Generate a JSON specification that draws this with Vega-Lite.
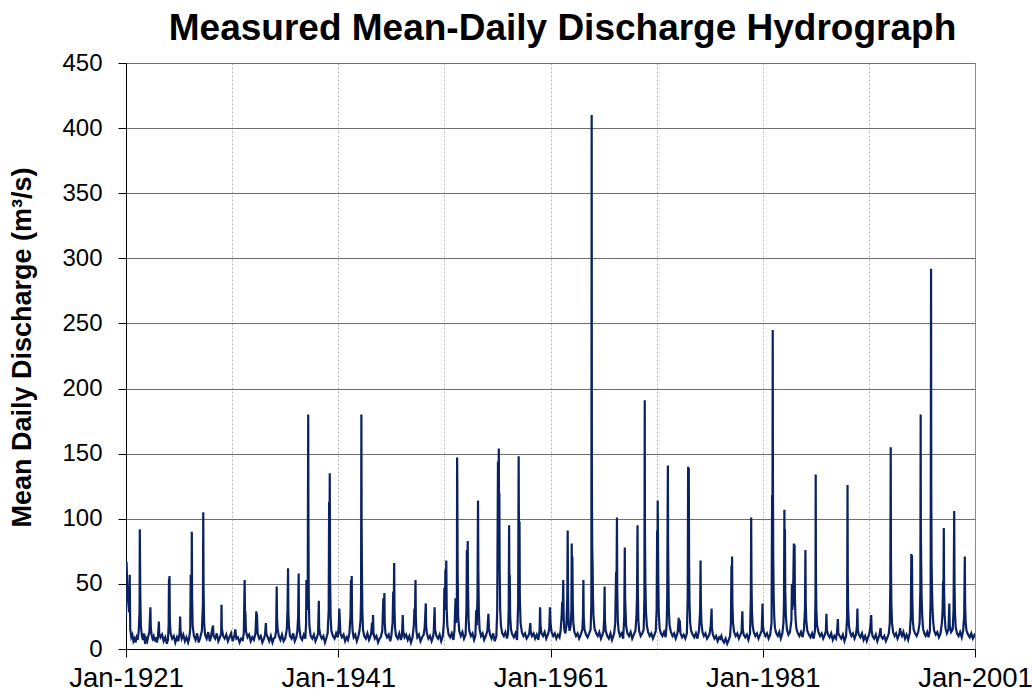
{
  "$schema": "https://vega.github.io/schema/vega-lite/v6.json",
  "width": 849,
  "height": 586,
  "autosize": {"type": "none"},
  "padding": {"left": 126, "top": 63, "right": 57, "bottom": 49},
  "background": "white",
  "config": {
    "font": "Liberation Sans",
    "view": {"stroke": "#8a8a8a", "strokeWidth": 1}
  },
  "title": {
    "text": "Measured Mean-Daily Discharge Hydrograph",
    "fontSize": 37,
    "fontWeight": "bold",
    "font": "Liberation Sans",
    "color": "black",
    "anchor": "middle",
    "offset": 3,
    "dx": 12
  },
  "data": {"values": [
    {"t":1921.00,"q":25},{"t":1921.05,"q":67},{"t":1921.12,"q":48},{"t":1921.2,"q":40},{"t":1921.3,"q":28},{"t":1921.35,"q":57},{"t":1921.4,"q":15},{"t":1921.5,"q":9},{"t":1921.6,"q":11},{"t":1921.7,"q":6},{"t":1921.8,"q":8},{"t":1921.9,"q":5},
    {"t":1922.0,"q":9},{"t":1922.1,"q":7},{"t":1922.2,"q":14},{"t":1922.28,"q":30},{"t":1922.3,"q":92},{"t":1922.32,"q":70},{"t":1922.35,"q":40},{"t":1922.4,"q":18},{"t":1922.5,"q":10},{"t":1922.6,"q":7},{"t":1922.7,"q":12},{"t":1922.8,"q":4},{"t":1922.9,"q":8},
    {"t":1923.0,"q":6},{"t":1923.1,"q":10},{"t":1923.2,"q":13},{"t":1923.3,"q":32},{"t":1923.33,"q":18},{"t":1923.4,"q":11},{"t":1923.5,"q":8},{"t":1923.6,"q":10},{"t":1923.7,"q":6},{"t":1923.8,"q":9},{"t":1923.9,"q":5},
    {"t":1924.0,"q":8},{"t":1924.1,"q":21},{"t":1924.13,"q":12},{"t":1924.25,"q":9},{"t":1924.4,"q":11},{"t":1924.55,"q":6},{"t":1924.7,"q":9},{"t":1924.85,"q":4},{"t":1924.95,"q":7},
    {"t":1925.02,"q":18},{"t":1925.05,"q":54},{"t":1925.08,"q":35},{"t":1925.1,"q":56},{"t":1925.13,"q":22},{"t":1925.2,"q":12},{"t":1925.35,"q":8},{"t":1925.5,"q":10},{"t":1925.65,"q":5},{"t":1925.8,"q":9},{"t":1925.92,"q":6},
    {"t":1926.05,"q":12},{"t":1926.1,"q":25},{"t":1926.14,"q":14},{"t":1926.25,"q":8},{"t":1926.4,"q":11},{"t":1926.55,"q":6},{"t":1926.7,"q":9},{"t":1926.85,"q":5},{"t":1926.95,"q":8},
    {"t":1927.05,"q":15},{"t":1927.1,"q":57},{"t":1927.14,"q":30},{"t":1927.18,"q":45},{"t":1927.2,"q":90},{"t":1927.23,"q":40},{"t":1927.28,"q":18},{"t":1927.4,"q":10},{"t":1927.55,"q":7},{"t":1927.7,"q":12},{"t":1927.85,"q":5},
    {"t":1928.0,"q":9},{"t":1928.15,"q":14},{"t":1928.25,"q":35},{"t":1928.28,"q":105},{"t":1928.31,"q":45},{"t":1928.36,"q":20},{"t":1928.45,"q":11},{"t":1928.6,"q":8},{"t":1928.75,"q":13},{"t":1928.9,"q":6},
    {"t":1929.0,"q":9},{"t":1929.1,"q":14},{"t":1929.2,"q":18},{"t":1929.25,"q":10},{"t":1929.4,"q":8},{"t":1929.55,"q":12},{"t":1929.7,"q":6},{"t":1929.85,"q":9},
    {"t":1929.97,"q":12},{"t":1930.0,"q":34},{"t":1930.03,"q":16},{"t":1930.15,"q":10},{"t":1930.3,"q":8},{"t":1930.45,"q":11},{"t":1930.6,"q":6},{"t":1930.75,"q":9},{"t":1930.9,"q":12},
    {"t":1931.05,"q":6},{"t":1931.2,"q":10},{"t":1931.3,"q":15},{"t":1931.4,"q":8},{"t":1931.55,"q":9},{"t":1931.7,"q":5},{"t":1931.85,"q":8},
    {"t":1932.0,"q":7},{"t":1932.1,"q":12},{"t":1932.18,"q":53},{"t":1932.21,"q":30},{"t":1932.25,"q":28},{"t":1932.3,"q":14},{"t":1932.45,"q":9},{"t":1932.6,"q":11},{"t":1932.75,"q":6},{"t":1932.9,"q":9},
    {"t":1933.05,"q":7},{"t":1933.2,"q":12},{"t":1933.28,"q":29},{"t":1933.31,"q":18},{"t":1933.34,"q":27},{"t":1933.4,"q":12},{"t":1933.55,"q":8},{"t":1933.7,"q":10},{"t":1933.85,"q":5},
    {"t":1934.0,"q":8},{"t":1934.1,"q":11},{"t":1934.18,"q":20},{"t":1934.22,"q":12},{"t":1934.35,"q":9},{"t":1934.5,"q":6},{"t":1934.65,"q":10},{"t":1934.8,"q":5},{"t":1934.92,"q":8},
    {"t":1935.05,"q":9},{"t":1935.15,"q":14},{"t":1935.2,"q":48},{"t":1935.23,"q":24},{"t":1935.28,"q":16},{"t":1935.4,"q":10},{"t":1935.55,"q":7},{"t":1935.7,"q":11},{"t":1935.85,"q":6},
    {"t":1936.0,"q":8},{"t":1936.15,"q":15},{"t":1936.22,"q":30},{"t":1936.27,"q":62},{"t":1936.3,"q":28},{"t":1936.35,"q":18},{"t":1936.45,"q":10},{"t":1936.6,"q":8},{"t":1936.75,"q":12},{"t":1936.9,"q":6},
    {"t":1937.05,"q":9},{"t":1937.15,"q":14},{"t":1937.22,"q":25},{"t":1937.27,"q":58},{"t":1937.3,"q":22},{"t":1937.35,"q":15},{"t":1937.45,"q":9},{"t":1937.6,"q":7},{"t":1937.75,"q":11},{"t":1937.9,"q":8},
    {"t":1937.97,"q":20},{"t":1938.0,"q":53},{"t":1938.05,"q":30},{"t":1938.12,"q":35},{"t":1938.17,"q":180},{"t":1938.19,"q":100},{"t":1938.22,"q":40},{"t":1938.28,"q":18},{"t":1938.4,"q":10},{"t":1938.55,"q":8},{"t":1938.7,"q":11},{"t":1938.85,"q":6},
    {"t":1939.0,"q":9},{"t":1939.1,"q":12},{"t":1939.17,"q":37},{"t":1939.2,"q":16},{"t":1939.3,"q":11},{"t":1939.45,"q":8},{"t":1939.6,"q":10},{"t":1939.75,"q":5},{"t":1939.9,"q":9},
    {"t":1940.0,"q":12},{"t":1940.1,"q":30},{"t":1940.14,"q":113},{"t":1940.17,"q":60},{"t":1940.2,"q":135},{"t":1940.23,"q":55},{"t":1940.28,"q":25},{"t":1940.35,"q":14},{"t":1940.5,"q":10},{"t":1940.65,"q":8},{"t":1940.8,"q":12},{"t":1940.95,"q":9},
    {"t":1941.05,"q":18},{"t":1941.1,"q":31},{"t":1941.14,"q":24},{"t":1941.2,"q":12},{"t":1941.35,"q":9},{"t":1941.5,"q":11},{"t":1941.65,"q":6},{"t":1941.8,"q":9},{"t":1941.92,"q":7},
    {"t":1942.05,"q":12},{"t":1942.15,"q":25},{"t":1942.2,"q":53},{"t":1942.23,"q":28},{"t":1942.27,"q":56},{"t":1942.3,"q":24},{"t":1942.35,"q":14},{"t":1942.45,"q":9},{"t":1942.6,"q":11},{"t":1942.75,"q":6},{"t":1942.9,"q":10},
    {"t":1943.0,"q":14},{"t":1943.1,"q":22},{"t":1943.15,"q":40},{"t":1943.18,"q":180},{"t":1943.2,"q":100},{"t":1943.23,"q":60},{"t":1943.27,"q":30},{"t":1943.33,"q":15},{"t":1943.45,"q":10},{"t":1943.6,"q":8},{"t":1943.75,"q":12},{"t":1943.9,"q":7},
    {"t":1944.0,"q":9},{"t":1944.1,"q":12},{"t":1944.18,"q":20},{"t":1944.22,"q":11},{"t":1944.28,"q":26},{"t":1944.32,"q":12},{"t":1944.45,"q":8},{"t":1944.6,"q":10},{"t":1944.75,"q":5},{"t":1944.9,"q":8},
    {"t":1945.0,"q":9},{"t":1945.15,"q":14},{"t":1945.25,"q":39},{"t":1945.28,"q":22},{"t":1945.35,"q":43},{"t":1945.38,"q":20},{"t":1945.45,"q":12},{"t":1945.6,"q":9},{"t":1945.75,"q":11},{"t":1945.9,"q":6},
    {"t":1946.0,"q":10},{"t":1946.12,"q":20},{"t":1946.18,"q":44},{"t":1946.22,"q":25},{"t":1946.27,"q":66},{"t":1946.3,"q":30},{"t":1946.35,"q":16},{"t":1946.45,"q":10},{"t":1946.6,"q":8},{"t":1946.75,"q":12},{"t":1946.9,"q":7},
    {"t":1947.0,"q":10},{"t":1947.08,"q":26},{"t":1947.12,"q":14},{"t":1947.25,"q":9},{"t":1947.4,"q":11},{"t":1947.55,"q":7},{"t":1947.7,"q":10},{"t":1947.85,"q":5},
    {"t":1948.0,"q":9},{"t":1948.12,"q":18},{"t":1948.18,"q":31},{"t":1948.22,"q":20},{"t":1948.28,"q":53},{"t":1948.31,"q":25},{"t":1948.36,"q":14},{"t":1948.45,"q":9},{"t":1948.6,"q":11},{"t":1948.75,"q":6},{"t":1948.9,"q":9},
    {"t":1949.05,"q":11},{"t":1949.15,"q":17},{"t":1949.25,"q":35},{"t":1949.28,"q":18},{"t":1949.35,"q":12},{"t":1949.5,"q":8},{"t":1949.65,"q":10},{"t":1949.8,"q":6},{"t":1949.92,"q":9},
    {"t":1950.0,"q":13},{"t":1950.08,"q":32},{"t":1950.12,"q":15},{"t":1950.25,"q":10},{"t":1950.4,"q":8},{"t":1950.55,"q":11},{"t":1950.7,"q":6},{"t":1950.85,"q":10},
    {"t":1950.95,"q":20},{"t":1951.0,"q":47},{"t":1951.04,"q":30},{"t":1951.1,"q":61},{"t":1951.13,"q":35},{"t":1951.18,"q":68},{"t":1951.22,"q":30},{"t":1951.28,"q":18},{"t":1951.4,"q":11},{"t":1951.55,"q":9},{"t":1951.7,"q":12},{"t":1951.85,"q":7},
    {"t":1951.95,"q":14},{"t":1952.05,"q":39},{"t":1952.1,"q":20},{"t":1952.18,"q":40},{"t":1952.2,"q":147},{"t":1952.22,"q":125},{"t":1952.25,"q":60},{"t":1952.3,"q":25},{"t":1952.4,"q":14},{"t":1952.55,"q":10},{"t":1952.7,"q":13},{"t":1952.85,"q":8},
    {"t":1953.0,"q":11},{"t":1953.08,"q":30},{"t":1953.12,"q":76},{"t":1953.15,"q":40},{"t":1953.2,"q":83},{"t":1953.23,"q":45},{"t":1953.28,"q":22},{"t":1953.35,"q":14},{"t":1953.5,"q":10},{"t":1953.65,"q":12},{"t":1953.8,"q":7},{"t":1953.92,"q":10},
    {"t":1954.0,"q":30},{"t":1954.05,"q":18},{"t":1954.12,"q":40},{"t":1954.17,"q":114},{"t":1954.2,"q":60},{"t":1954.25,"q":28},{"t":1954.32,"q":15},{"t":1954.45,"q":10},{"t":1954.6,"q":12},{"t":1954.75,"q":7},{"t":1954.9,"q":10},
    {"t":1955.05,"q":14},{"t":1955.15,"q":27},{"t":1955.2,"q":16},{"t":1955.3,"q":11},{"t":1955.45,"q":8},{"t":1955.6,"q":12},{"t":1955.75,"q":6},{"t":1955.9,"q":10},
    {"t":1955.98,"q":30},{"t":1956.05,"q":144},{"t":1956.08,"q":90},{"t":1956.1,"q":110},{"t":1956.13,"q":154},{"t":1956.15,"q":100},{"t":1956.18,"q":120},{"t":1956.21,"q":60},{"t":1956.26,"q":30},{"t":1956.33,"q":18},{"t":1956.45,"q":12},{"t":1956.6,"q":10},{"t":1956.75,"q":13},{"t":1956.9,"q":8},
    {"t":1957.0,"q":12},{"t":1957.06,"q":30},{"t":1957.1,"q":95},{"t":1957.13,"q":45},{"t":1957.16,"q":57},{"t":1957.2,"q":25},{"t":1957.28,"q":15},{"t":1957.4,"q":11},{"t":1957.55,"q":9},{"t":1957.7,"q":12},{"t":1957.85,"q":7},
    {"t":1957.95,"q":35},{"t":1958.0,"q":148},{"t":1958.02,"q":100},{"t":1958.05,"q":60},{"t":1958.08,"q":98},{"t":1958.11,"q":40},{"t":1958.18,"q":20},{"t":1958.3,"q":13},{"t":1958.45,"q":10},{"t":1958.6,"q":12},{"t":1958.75,"q":8},{"t":1958.9,"q":10},
    {"t":1959.0,"q":12},{"t":1959.1,"q":20},{"t":1959.14,"q":13},{"t":1959.25,"q":10},{"t":1959.4,"q":12},{"t":1959.55,"q":8},{"t":1959.7,"q":11},{"t":1959.85,"q":7},
    {"t":1959.97,"q":14},{"t":1960.02,"q":32},{"t":1960.06,"q":18},{"t":1960.15,"q":12},{"t":1960.3,"q":10},{"t":1960.45,"q":13},{"t":1960.6,"q":8},{"t":1960.75,"q":11},{"t":1960.88,"q":15},
    {"t":1960.95,"q":32},{"t":1961.0,"q":20},{"t":1961.1,"q":13},{"t":1961.25,"q":10},{"t":1961.4,"q":12},{"t":1961.55,"q":8},{"t":1961.7,"q":11},{"t":1961.85,"q":9},
    {"t":1961.95,"q":14},{"t":1962.05,"q":25},{"t":1962.1,"q":36},{"t":1962.14,"q":22},{"t":1962.2,"q":53},{"t":1962.24,"q":25},{"t":1962.3,"q":15},{"t":1962.4,"q":12},{"t":1962.5,"q":18},{"t":1962.58,"q":40},{"t":1962.62,"q":91},{"t":1962.65,"q":45},{"t":1962.7,"q":20},{"t":1962.8,"q":14},{"t":1962.9,"q":18},
    {"t":1962.97,"q":30},{"t":1963.0,"q":81},{"t":1963.03,"q":50},{"t":1963.06,"q":71},{"t":1963.1,"q":35},{"t":1963.15,"q":20},{"t":1963.25,"q":13},{"t":1963.4,"q":10},{"t":1963.55,"q":12},{"t":1963.7,"q":8},{"t":1963.85,"q":11},
    {"t":1964.0,"q":15},{"t":1964.06,"q":25},{"t":1964.1,"q":53},{"t":1964.13,"q":25},{"t":1964.2,"q":15},{"t":1964.35,"q":11},{"t":1964.5,"q":9},{"t":1964.65,"q":12},{"t":1964.78,"q":15},{"t":1964.85,"q":35},{"t":1964.88,"q":410},{"t":1964.9,"q":128},{"t":1964.93,"q":80},{"t":1964.97,"q":63},
    {"t":1965.0,"q":40},{"t":1965.05,"q":25},{"t":1965.15,"q":16},{"t":1965.3,"q":12},{"t":1965.45,"q":10},{"t":1965.6,"q":13},{"t":1965.75,"q":8},{"t":1965.9,"q":11},
    {"t":1966.0,"q":14},{"t":1966.06,"q":25},{"t":1966.1,"q":48},{"t":1966.13,"q":22},{"t":1966.2,"q":14},{"t":1966.35,"q":10},{"t":1966.5,"q":8},{"t":1966.65,"q":12},{"t":1966.8,"q":7},{"t":1966.92,"q":10},
    {"t":1967.0,"q":12},{"t":1967.1,"q":20},{"t":1967.18,"q":59},{"t":1967.21,"q":30},{"t":1967.26,"q":101},{"t":1967.29,"q":45},{"t":1967.34,"q":22},{"t":1967.42,"q":14},{"t":1967.55,"q":10},{"t":1967.7,"q":12},{"t":1967.85,"q":8},{"t":1967.95,"q":25},
    {"t":1968.0,"q":78},{"t":1968.03,"q":40},{"t":1968.07,"q":30},{"t":1968.12,"q":18},{"t":1968.25,"q":12},{"t":1968.4,"q":10},{"t":1968.55,"q":13},{"t":1968.7,"q":8},{"t":1968.85,"q":11},
    {"t":1969.0,"q":14},{"t":1969.1,"q":25},{"t":1969.15,"q":40},{"t":1969.2,"q":95},{"t":1969.23,"q":45},{"t":1969.28,"q":22},{"t":1969.35,"q":14},{"t":1969.5,"q":10},{"t":1969.65,"q":12},{"t":1969.78,"q":15},{"t":1969.85,"q":40},{"t":1969.88,"q":191},{"t":1969.9,"q":90},{"t":1969.94,"q":50},
    {"t":1970.0,"q":28},{"t":1970.08,"q":18},{"t":1970.2,"q":13},{"t":1970.35,"q":10},{"t":1970.5,"q":12},{"t":1970.65,"q":8},{"t":1970.8,"q":11},{"t":1970.92,"q":14},
    {"t":1971.0,"q":30},{"t":1971.05,"q":91},{"t":1971.08,"q":60},{"t":1971.1,"q":114},{"t":1971.13,"q":83},{"t":1971.16,"q":50},{"t":1971.2,"q":28},{"t":1971.28,"q":16},{"t":1971.4,"q":12},{"t":1971.55,"q":10},{"t":1971.7,"q":13},{"t":1971.85,"q":9},
    {"t":1971.95,"q":20},{"t":1972.0,"q":40},{"t":1972.06,"q":141},{"t":1972.08,"q":80},{"t":1972.11,"q":55},{"t":1972.15,"q":30},{"t":1972.22,"q":18},{"t":1972.35,"q":13},{"t":1972.5,"q":10},{"t":1972.65,"q":12},{"t":1972.8,"q":8},{"t":1972.92,"q":11},
    {"t":1973.0,"q":14},{"t":1973.08,"q":24},{"t":1973.12,"q":13},{"t":1973.18,"q":22},{"t":1973.25,"q":12},{"t":1973.4,"q":9},{"t":1973.55,"q":11},{"t":1973.7,"q":8},{"t":1973.85,"q":12},
    {"t":1973.93,"q":40},{"t":1973.97,"q":140},{"t":1974.0,"q":70},{"t":1974.03,"q":139},{"t":1974.06,"q":66},{"t":1974.1,"q":35},{"t":1974.16,"q":20},{"t":1974.25,"q":14},{"t":1974.4,"q":11},{"t":1974.55,"q":9},{"t":1974.7,"q":12},{"t":1974.85,"q":8},
    {"t":1975.0,"q":15},{"t":1975.1,"q":30},{"t":1975.14,"q":68},{"t":1975.17,"q":35},{"t":1975.22,"q":20},{"t":1975.32,"q":13},{"t":1975.45,"q":10},{"t":1975.6,"q":12},{"t":1975.75,"q":8},{"t":1975.9,"q":10},
    {"t":1976.0,"q":12},{"t":1976.1,"q":18},{"t":1976.18,"q":31},{"t":1976.21,"q":16},{"t":1976.3,"q":11},{"t":1976.45,"q":8},{"t":1976.6,"q":10},{"t":1976.75,"q":6},{"t":1976.9,"q":9},
    {"t":1977.0,"q":8},{"t":1977.1,"q":10},{"t":1977.2,"q":7},{"t":1977.35,"q":5},{"t":1977.5,"q":8},{"t":1977.65,"q":4},{"t":1977.8,"q":7},{"t":1977.92,"q":10},
    {"t":1978.0,"q":20},{"t":1978.05,"q":64},{"t":1978.08,"q":35},{"t":1978.11,"q":71},{"t":1978.14,"q":35},{"t":1978.2,"q":20},{"t":1978.3,"q":13},{"t":1978.45,"q":10},{"t":1978.6,"q":12},{"t":1978.75,"q":8},{"t":1978.9,"q":11},
    {"t":1979.0,"q":13},{"t":1979.08,"q":29},{"t":1979.12,"q":15},{"t":1979.2,"q":11},{"t":1979.35,"q":9},{"t":1979.5,"q":11},{"t":1979.65,"q":7},{"t":1979.8,"q":12},{"t":1979.88,"q":40},{"t":1979.91,"q":101},{"t":1979.94,"q":51},{"t":1979.98,"q":30},
    {"t":1980.05,"q":18},{"t":1980.15,"q":13},{"t":1980.3,"q":10},{"t":1980.45,"q":12},{"t":1980.6,"q":8},{"t":1980.75,"q":11},{"t":1980.9,"q":14},
    {"t":1980.98,"q":35},{"t":1981.02,"q":18},{"t":1981.1,"q":13},{"t":1981.25,"q":10},{"t":1981.4,"q":12},{"t":1981.55,"q":8},{"t":1981.7,"q":11},{"t":1981.83,"q":20},{"t":1981.88,"q":118},{"t":1981.91,"q":60},{"t":1981.94,"q":245},{"t":1981.96,"q":127},{"t":1981.99,"q":70},
    {"t":1982.03,"q":40},{"t":1982.08,"q":25},{"t":1982.15,"q":16},{"t":1982.28,"q":12},{"t":1982.42,"q":10},{"t":1982.56,"q":13},{"t":1982.7,"q":8},{"t":1982.85,"q":12},{"t":1982.95,"q":20},
    {"t":1983.0,"q":35},{"t":1983.04,"q":107},{"t":1983.07,"q":60},{"t":1983.09,"q":92},{"t":1983.12,"q":45},{"t":1983.18,"q":25},{"t":1983.28,"q":15},{"t":1983.42,"q":11},{"t":1983.56,"q":13},{"t":1983.7,"q":22},{"t":1983.75,"q":50},{"t":1983.78,"q":30},{"t":1983.85,"q":35},{"t":1983.93,"q":81},{"t":1983.96,"q":40},
    {"t":1984.0,"q":80},{"t":1984.03,"q":40},{"t":1984.08,"q":25},{"t":1984.16,"q":16},{"t":1984.3,"q":12},{"t":1984.45,"q":10},{"t":1984.6,"q":13},{"t":1984.75,"q":9},{"t":1984.88,"q":15},
    {"t":1984.98,"q":30},{"t":1985.02,"q":76},{"t":1985.05,"q":35},{"t":1985.1,"q":22},{"t":1985.2,"q":14},{"t":1985.35,"q":11},{"t":1985.5,"q":9},{"t":1985.65,"q":12},{"t":1985.8,"q":8},{"t":1985.92,"q":14},
    {"t":1985.97,"q":40},{"t":1985.99,"q":134},{"t":1986.01,"q":60},{"t":1986.05,"q":30},{"t":1986.12,"q":18},{"t":1986.25,"q":13},{"t":1986.4,"q":10},{"t":1986.55,"q":12},{"t":1986.7,"q":8},{"t":1986.85,"q":11},
    {"t":1986.95,"q":14},{"t":1987.0,"q":27},{"t":1987.04,"q":15},{"t":1987.15,"q":11},{"t":1987.3,"q":9},{"t":1987.45,"q":12},{"t":1987.6,"q":7},{"t":1987.75,"q":10},{"t":1987.9,"q":8},
    {"t":1988.0,"q":13},{"t":1988.08,"q":23},{"t":1988.12,"q":12},{"t":1988.25,"q":10},{"t":1988.4,"q":8},{"t":1988.55,"q":11},{"t":1988.7,"q":6},{"t":1988.85,"q":10},{"t":1988.95,"q":25},
    {"t":1988.99,"q":126},{"t":1989.01,"q":55},{"t":1989.05,"q":30},{"t":1989.12,"q":18},{"t":1989.22,"q":13},{"t":1989.35,"q":10},{"t":1989.5,"q":12},{"t":1989.65,"q":8},{"t":1989.78,"q":11},
    {"t":1989.88,"q":18},{"t":1989.92,"q":31},{"t":1989.96,"q":15},{"t":1990.05,"q":11},{"t":1990.2,"q":9},{"t":1990.35,"q":12},{"t":1990.5,"q":7},{"t":1990.65,"q":10},{"t":1990.8,"q":6},{"t":1990.92,"q":9},
    {"t":1991.05,"q":12},{"t":1991.15,"q":18},{"t":1991.22,"q":26},{"t":1991.26,"q":14},{"t":1991.35,"q":10},{"t":1991.5,"q":8},{"t":1991.65,"q":11},{"t":1991.8,"q":6},{"t":1991.92,"q":9},
    {"t":1992.0,"q":11},{"t":1992.1,"q":16},{"t":1992.15,"q":10},{"t":1992.3,"q":8},{"t":1992.45,"q":10},{"t":1992.6,"q":6},{"t":1992.75,"q":9},{"t":1992.88,"q":12},
    {"t":1992.97,"q":20},{"t":1993.02,"q":50},{"t":1993.06,"q":155},{"t":1993.08,"q":70},{"t":1993.12,"q":35},{"t":1993.18,"q":20},{"t":1993.28,"q":13},{"t":1993.42,"q":10},{"t":1993.56,"q":12},{"t":1993.7,"q":8},{"t":1993.85,"q":11},
    {"t":1993.95,"q":16},{"t":1994.02,"q":12},{"t":1994.12,"q":10},{"t":1994.25,"q":13},{"t":1994.4,"q":8},{"t":1994.55,"q":11},{"t":1994.7,"q":7},{"t":1994.85,"q":12},
    {"t":1994.95,"q":25},{"t":1995.0,"q":73},{"t":1995.03,"q":40},{"t":1995.06,"q":72},{"t":1995.09,"q":40},{"t":1995.14,"q":22},{"t":1995.22,"q":15},{"t":1995.35,"q":12},{"t":1995.5,"q":10},{"t":1995.65,"q":13},{"t":1995.78,"q":20},{"t":1995.85,"q":45},{"t":1995.88,"q":180},{"t":1995.9,"q":90},{"t":1995.93,"q":66},{"t":1995.97,"q":40},
    {"t":1996.03,"q":25},{"t":1996.1,"q":16},{"t":1996.22,"q":12},{"t":1996.35,"q":10},{"t":1996.5,"q":13},{"t":1996.62,"q":9},{"t":1996.75,"q":14},{"t":1996.82,"q":40},{"t":1996.86,"q":292},{"t":1996.88,"q":120},{"t":1996.91,"q":66},{"t":1996.95,"q":45},
    {"t":1997.0,"q":30},{"t":1997.07,"q":20},{"t":1997.15,"q":14},{"t":1997.3,"q":11},{"t":1997.45,"q":13},{"t":1997.6,"q":9},{"t":1997.75,"q":12},{"t":1997.88,"q":20},
    {"t":1997.95,"q":30},{"t":1997.99,"q":52},{"t":1998.02,"q":35},{"t":1998.06,"q":93},{"t":1998.09,"q":45},{"t":1998.14,"q":25},{"t":1998.22,"q":16},{"t":1998.35,"q":12},{"t":1998.5,"q":15},{"t":1998.58,"q":35},{"t":1998.62,"q":18},{"t":1998.75,"q":13},{"t":1998.9,"q":15},
    {"t":1998.98,"q":30},{"t":1999.04,"q":106},{"t":1999.07,"q":50},{"t":1999.11,"q":28},{"t":1999.18,"q":17},{"t":1999.3,"q":12},{"t":1999.45,"q":10},{"t":1999.6,"q":13},{"t":1999.75,"q":9},{"t":1999.88,"q":14},
    {"t":1999.98,"q":25},{"t":2000.04,"q":71},{"t":2000.07,"q":35},{"t":2000.12,"q":20},{"t":2000.2,"q":14},{"t":2000.35,"q":11},{"t":2000.5,"q":9},{"t":2000.65,"q":12},{"t":2000.8,"q":8},{"t":2000.92,"q":10},
    {"t":2001.0,"q":12}
  ]},
  "mark": {"type": "line", "color": "#0a2263", "strokeWidth": 2.2, "clip": true},
  "encoding": {
    "x": {
      "field": "t",
      "type": "quantitative",
      "scale": {"domain": [1921, 2001], "nice": false, "zero": false},
      "axis": {
        "title": null,
        "values": [1921, 1931, 1941, 1951, 1961, 1971, 1981, 1991, 2001],
        "labelExpr": "datum.value % 20 == 1 ? 'Jan-' + datum.value : ''",
        "labelFontSize": 27.5,
        "labelColor": "black",
        "labelPadding": 7,
        "labelFlush": false,
        "labelOverlap": false,
        "tickSize": 8,
        "tickColor": "black",
        "tickOpacity": {"condition": {"test": "datum.value % 20 == 1", "value": 1}, "value": 0},
        "domainColor": "black",
        "domainWidth": 1,
        "grid": true,
        "gridColor": "#b8b8b8",
        "gridDash": [2, 2],
        "gridWidth": 1,
        "gridOpacity": {"condition": {"test": "datum.value > 1921 && datum.value < 2001", "value": 1}, "value": 0}
      }
    },
    "y": {
      "field": "q",
      "type": "quantitative",
      "scale": {"domain": [0, 450], "nice": false},
      "axis": {
        "title": "Mean Daily Discharge (m³/s)",
        "titleFontSize": 27,
        "titleFontWeight": "bold",
        "titleColor": "black",
        "titlePadding": 25,
        "titleY": 284,
        "values": [0, 50, 100, 150, 200, 250, 300, 350, 400, 450],
        "labelFontSize": 24,
        "labelColor": "black",
        "labelPadding": 16,
        "tickSize": 8,
        "tickColor": "black",
        "domainColor": "black",
        "grid": true,
        "gridColor": "#6e6e6e",
        "gridWidth": 1
      }
    }
  }
}
